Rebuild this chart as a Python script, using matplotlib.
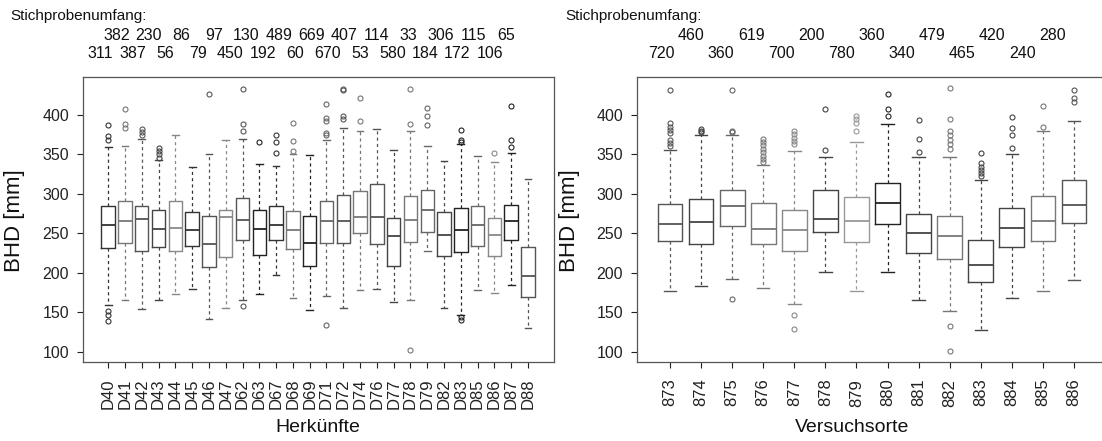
import matplotlib
matplotlib.use('Agg')
import matplotlib.pyplot as plt
from matplotlib.transforms import blended_transform_factory

plt.rcParams['font.family'] = ['Liberation Sans', 'DejaVu Sans']

# ---------------- Left panel: Herkünfte ----------------
herk = ['D40', 'D41', 'D42', 'D43', 'D44', 'D45', 'D46', 'D47', 'D62', 'D63',
        'D67', 'D68', 'D69', 'D71', 'D72', 'D74', 'D76', 'D77', 'D78', 'D79',
        'D82', 'D83', 'D85', 'D86', 'D87', 'D88']
herk_n = [311, 382, 387, 230, 56, 86, 79, 97, 450, 130, 192, 489, 60, 669,
          670, 407, 53, 114, 580, 33, 184, 306, 172, 115, 106, 65]
herk_q1 = [232, 238, 228, 233, 227, 234, 207, 220, 241, 223, 242, 230, 208,
           238, 238, 250, 237, 208, 239, 252, 221, 226, 234, 221, 241, 169]
herk_med = [260, 266, 268, 255, 257, 254, 237, 271, 267, 256, 261, 254, 238,
            266, 266, 271, 271, 247, 267, 280, 248, 254, 261, 248, 266, 196]
herk_q3 = [284, 291, 285, 279, 291, 277, 272, 280, 295, 280, 285, 278, 272,
           291, 298, 304, 313, 270, 297, 305, 277, 282, 284, 270, 286, 233]
herk_lo = [159, 165, 154, 165, 173, 180, 141, 155, 166, 173, 197, 168, 153,
           171, 155, 178, 180, 163, 166, 227, 155, 147, 178, 175, 185, 130]
herk_hi = [359, 360, 370, 343, 375, 334, 350, 368, 370, 338, 335, 351, 349,
           368, 384, 379, 382, 355, 379, 361, 341, 363, 348, 340, 352, 319]
herk_out = [[387, 373, 368, 151, 147, 139], [408, 388, 384], [382, 378, 375],
            [358, 354, 350, 346], [], [], [426], [], [433, 389, 379, 158],
            [366], [375, 366, 352], [390, 367, 354], [],
            [414, 396, 392, 377, 375, 134], [433, 432, 398, 395], [422, 392],
            [], [], [433, 388, 102], [409, 398, 387], [],
            [381, 368, 366, 144, 140], [], [352], [411, 368, 359], []]

# ---------------- Right panel: Versuchsorte ----------------
orte = ['873', '874', '875', '876', '877', '878', '879', '880', '881', '882',
        '883', '884', '885', '886']
orte_n = [720, 460, 360, 619, 700, 200, 780, 360, 340, 479, 465, 420, 240, 280]
orte_q1 = [240, 236, 259, 236, 228, 252, 239, 262, 225, 218, 188, 233, 240, 263]
orte_med = [262, 264, 285, 256, 254, 268, 265, 288, 251, 246, 210, 257, 266, 286]
orte_q3 = [287, 293, 305, 289, 279, 305, 296, 314, 275, 272, 241, 282, 297, 317]
orte_lo = [177, 183, 192, 181, 160, 201, 177, 201, 165, 152, 128, 168, 177, 191]
orte_hi = [356, 374, 374, 337, 354, 347, 366, 388, 347, 347, 318, 350, 380, 392]
orte_out = [[432, 390, 385, 381, 377, 368, 364, 360], [382, 380, 378],
            [432, 380, 378, 167], [370, 366, 362, 357, 353, 348, 344, 340],
            [380, 376, 371, 367, 363, 146, 129], [408, 356],
            [399, 395, 390, 380], [426, 408, 399], [394, 369, 353],
            [434, 395, 380, 374, 368, 363, 357, 133, 101],
            [352, 339, 334, 330, 326, 322], [397, 384, 374, 358], [411, 385],
            [432, 422, 416]]

# box colours (style)
herk_colors = ['#333333', '#777777', '#555555', '#444444', '#888888', '#333333',
               '#555555', '#888888', '#555555', '#222222', '#333333', '#777777',
               '#222222', '#666666', '#555555', '#777777', '#555555', '#444444',
               '#777777', '#666666', '#444444', '#222222', '#666666', '#888888',
               '#222222', '#555555']
orte_colors = ['#555555', '#444444', '#666666', '#777777', '#888888', '#444444',
               '#999999', '#222222', '#444444', '#777777', '#444444', '#444444',
               '#777777', '#555555']

W, H = 1102, 441
fig = plt.figure(figsize=(W / 100, H / 100), dpi=100)
fig.patch.set_facecolor('white')


def px_rect(x0, x1, ytop, ybot):
    return [x0 / W, 1 - ybot / H, (x1 - x0) / W, (ybot - ytop) / H]


ax1 = fig.add_axes(px_rect(83, 554, 77, 362))
ax2 = fig.add_axes(px_rect(637, 1107, 77, 362))


def draw(ax, names, q1, med, q3, lo, hi, out, colors, xlim):
    stats = []
    for i in range(len(names)):
        stats.append(dict(q1=q1[i], med=med[i], q3=q3[i], whislo=lo[i],
                          whishi=hi[i], fliers=out[i], label=names[i]))
    pos = list(range(1, len(names) + 1))
    res = ax.bxp(stats, positions=pos, widths=0.8, capwidths=0.4,
                 showfliers=True, patch_artist=False, manage_ticks=False,
                 boxprops=dict(linewidth=1.0),
                 medianprops=dict(linewidth=1.3),
                 whiskerprops=dict(linewidth=0.9, linestyle=(0, (2.5, 2.5))),
                 capprops=dict(linewidth=1.0),
                 flierprops=dict(marker='o', markersize=3.6,
                                 markerfacecolor='none', markeredgewidth=0.8))
    for i, c in enumerate(colors):
        res['boxes'][i].set_color(c)
        res['medians'][i].set_color(c)
        for k in (2 * i, 2 * i + 1):
            res['whiskers'][k].set_color(c)
            res['caps'][k].set_color(c)
        res['fliers'][i].set_markeredgecolor(c)
    ax.set_xlim(*xlim)
    ax.set_ylim(87, 448)
    ax.set_xticks(pos)
    ax.set_xticklabels(names, rotation=90, fontsize=12)
    ax.set_yticks([100, 150, 200, 250, 300, 350, 400])
    ax.tick_params(axis='y', labelsize=11.5, direction='out', length=4,
                   width=0.8, pad=6, colors='#222222')
    ax.tick_params(axis='x', direction='out', length=4, width=0.8, pad=8,
                   colors='#222222')
    for s in ax.spines.values():
        s.set_linewidth(0.9)
        s.set_color('#555555')
    return pos


draw(ax1, herk, herk_q1, herk_med, herk_q3, herk_lo, herk_hi, herk_out,
     herk_colors, (-0.5, 27.55))
draw(ax2, orte, orte_q1, orte_med, orte_q3, orte_lo, orte_hi, orte_out,
     orte_colors, (-0.06, 15.06))

# sample size labels
def sizes(ax, n, off, step):
    tr = blended_transform_factory(ax.transData, fig.transFigure)
    for k, v in enumerate(n):
        x = 1 + off + k * step
        y = 1 - (53.5 if k % 2 == 0 else 35) / H
        ax.text(x, y, str(v), transform=tr, ha='center', va='center',
                fontsize=11.5, color='#111111', clip_on=False)


sizes(ax1, herk_n, -0.476, 0.967)
sizes(ax2, orte_n, -0.29, 0.9685)

fig.text(10 / W, 1 - 16 / H, 'Stichprobenumfang:', ha='left', va='center',
         fontsize=11, color='#111111')
fig.text(565 / W, 1 - 16 / H, 'Stichprobenumfang:', ha='left', va='center',
         fontsize=11, color='#111111')

fig.text(14.5 / W, 1 - 221 / H, 'BHD [mm]', rotation=90, ha='center',
         va='center', fontsize=16, color='#111111')
fig.text(570 / W, 1 - 221 / H, 'BHD [mm]', rotation=90, ha='center',
         va='center', fontsize=16, color='#111111')
fig.text(318 / W, 1 - 427 / H, 'Herkünfte', ha='center', va='center',
         fontsize=14, color='#111111')
fig.text(852 / W, 1 - 427 / H, 'Versuchsorte', ha='center', va='center',
         fontsize=14, color='#111111')

fig.savefig('out.png', dpi=100, facecolor='white')
